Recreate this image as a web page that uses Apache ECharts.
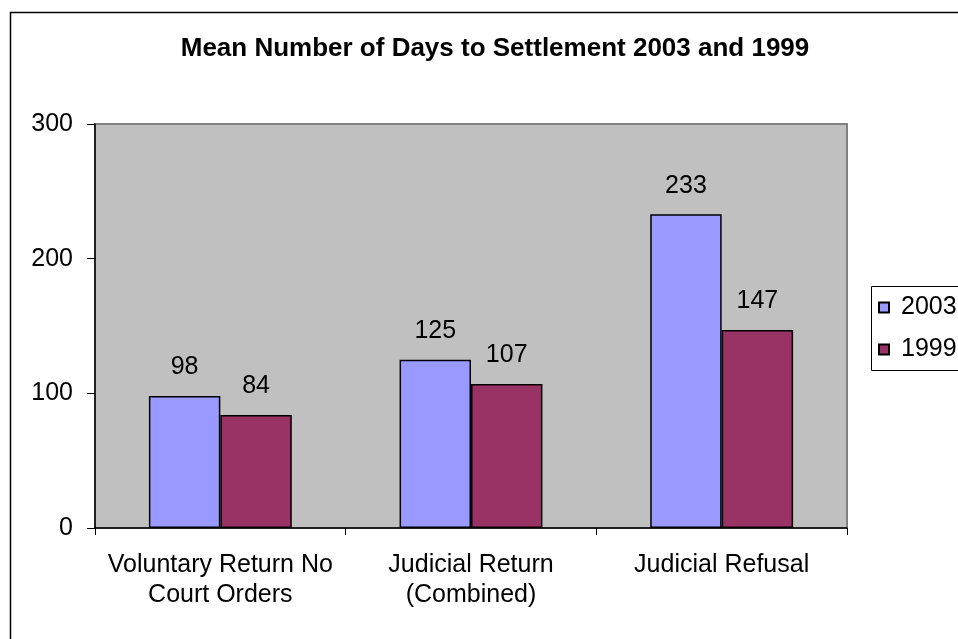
<!DOCTYPE html>
<html>
<head>
<meta charset="utf-8">
<script src="https://cdn.jsdelivr.net/npm/echarts@6/dist/echarts.min.js"></script>
<style>
    html, body { margin: 0; padding: 0; background: #fff; }
    #main { width: 958px; height: 639px; }
</style>
</head>
<body>
<div id="main"></div>
<script>
var categories = ['Voluntary Return No\nCourt Orders', 'Judicial Return\n(Combined)', 'Judicial Refusal'];
var days2003 = [98, 125, 233];
var days1999 = [84, 107, 147];
var seriesNames = ['2003', '1999'];

var font = 'Liberation Sans, Arial, sans-serif';

var barLabel = {
    show: true,
    position: 'top',
    distance: 16,
    color: '#000',
    fontFamily: font,
    fontSize: 25
};

var option = {
    backgroundColor: '#fff',
    animation: false,
    title: {
        text: 'Mean Number of Days to Settlement 2003 and 1999',
        left: 490,
        top: 31,
        textAlign: 'center',
        textStyle: {
            fontFamily: font,
            fontSize: 26,
            fontWeight: 'bold',
            color: '#000'
        }
    },
    legend: {
        orient: 'vertical',
        left: 878,
        top: 295,
        padding: 0,
        icon: 'rect',
        itemWidth: 10,
        itemHeight: 10,
        itemGap: 17,
        data: seriesNames,
        textStyle: {
            fontFamily: font,
            fontSize: 25,
            color: '#000',
            padding: [0, 0, 0, 7]
        }
    },
    grid: {
        left: 95,
        top: 124,
        width: 752,
        height: 404,
        show: true,
        backgroundColor: '#C0C0C0',
        borderColor: '#808080',
        borderWidth: 2
    },
    xAxis: {
        type: 'category',
        data: categories,
        axisLine: { lineStyle: { color: '#000', width: 1.5 } },
        axisTick: { show: true, length: 7, lineStyle: { color: '#000' } },
        axisLabel: {
            interval: 0,
            margin: 22,
            fontFamily: font,
            fontSize: 25,
            lineHeight: 30,
            color: '#000'
        }
    },
    yAxis: {
        type: 'value',
        min: 0,
        max: 300,
        interval: 100,
        splitLine: { show: false },
        axisLine: { show: true, lineStyle: { color: '#000', width: 1.5 } },
        axisTick: { show: true, length: 8, lineStyle: { color: '#000' } },
        axisLabel: {
            margin: 22,
            fontFamily: font,
            fontSize: 25,
            color: '#000'
        }
    },
    series: [
        {
            name: seriesNames[0],
            type: 'bar',
            data: days2003,
            barGap: '0%',
            barCategoryGap: '43%',
            itemStyle: { color: '#9999FF', borderColor: '#000', borderWidth: 1.5 },
            label: barLabel
        },
        {
            name: seriesNames[1],
            type: 'bar',
            data: days1999,
            barGap: '0%',
            barCategoryGap: '43%',
            itemStyle: { color: '#993366', borderColor: '#000', borderWidth: 1.5 },
            label: barLabel
        }
    ],
    graphic: [
        {
            type: 'rect',
            left: 8,
            top: 10,
            shape: { width: 960, height: 640 },
            style: { fill: 'none', stroke: '#000', lineWidth: 1.5 },
            silent: true
        },
        {
            type: 'rect',
            left: 869,
            top: 284,
            shape: { width: 110, height: 84 },
            style: { fill: 'none', stroke: '#000', lineWidth: 1 },
            silent: true
        }
    ]
};

var myChart = echarts.init(document.getElementById('main'));
myChart.setOption(option);
</script>
</body>
</html>
